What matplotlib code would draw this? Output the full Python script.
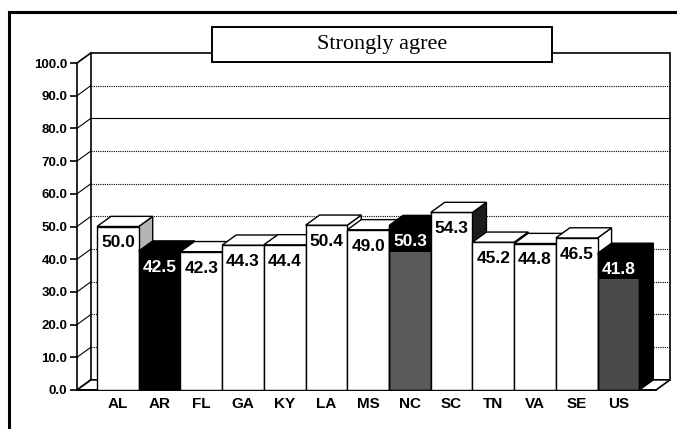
import matplotlib.pyplot as plt
from matplotlib.patches import Polygon, Rectangle
from matplotlib.lines import Line2D

states = ["AL", "AR", "FL", "GA", "KY", "LA", "MS", "NC", "SC", "TN", "VA", "SE", "US"]
values = [50.0, 42.5, 42.3, 44.3, 44.4, 50.4, 49.0, 50.3, 54.3, 45.2, 44.8, 46.5, 41.8]
yticks = [0, 10, 20, 30, 40, 50, 60, 70, 80, 90, 100]
title = "Strongly agree"

# face colours per bar: front, top, right side
front_col = {"AR": "black", "NC": "#5a5a5a", "US": "#4a4a4a"}
top_col = {"AR": "black", "NC": "black", "US": "black"}
side_col = {"AL": "#b4b4b4", "AR": "black", "NC": "black", "SC": "#1c1c1c", "US": "black"}
dark_band = ["NC", "US"]   # black band at the top of the front face

W, H = 677, 429
fig = plt.figure(figsize=(W / 100, H / 100), dpi=100)
ax = fig.add_axes([77 / W, 39 / H, 579 / W, 327 / H])
xmin, xmax = -0.98, 12.9
ax.set_xlim(xmin, xmax)
ax.set_ylim(0, 100)
ax.set_facecolor("none")

# depth of the fake 3d box, in data units (~14px right, 10px up)
DX, DY = 0.335, 3.1

# back wall + grid
ax.add_patch(Rectangle((xmin + DX, DY), xmax - xmin, 100, fc="white", ec="black",
                       lw=1.2, zorder=1, clip_on=False))
for v in yticks[1:-1]:
    ax.plot([xmin + DX, xmax + DX], [v + DY, v + DY], color="black",
            ls="-" if v == 80 else (0, (1, 1)), lw=0.8, zorder=1.1, clip_on=False)
# left wall diagonals
for v in yticks:
    ax.plot([xmin, xmin + DX], [v, v + DY], color="black", lw=0.8 if 0 < v < 100 else 1.2,
            zorder=1.2, clip_on=False)
# floor
ax.add_patch(Polygon([(xmin, 0), (xmax, 0), (xmax + DX, DY), (xmin + DX, DY)],
                     closed=True, fc="white", ec="black", lw=1.2, zorder=1.5, clip_on=False))

for i, (s, v) in enumerate(zip(states, values)):
    z = 10 + i
    fc = front_col.get(s, "white")
    ax.bar(i, v, width=1.0, color=fc, edgecolor="black", lw=1.0, zorder=z)
    if s in dark_band:
        ax.bar(i, 8, bottom=v - 8, width=1.0, color="black", lw=0, zorder=z)
        ax.bar(i, v, width=1.0, color="none", edgecolor="black", lw=1.0, zorder=z)
    ax.add_patch(Polygon([(i - 0.5, v), (i + 0.5, v), (i + 0.5 + DX, v + DY), (i - 0.5 + DX, v + DY)],
                         closed=True, fc=top_col.get(s, "white"), ec="black", lw=1.0,
                         zorder=z, clip_on=False))
    ax.add_patch(Polygon([(i + 0.5, 0), (i + 0.5 + DX, DY), (i + 0.5 + DX, v + DY), (i + 0.5, v)],
                         closed=True, fc=side_col.get(s, "white"), ec="black", lw=1.0,
                         zorder=z - 0.5, clip_on=False))
    tc = "white" if fc != "white" else "black"
    ax.text(i, v - 5, f"{v:.1f}", ha="center", va="center", color=tc,
            family="Liberation Sans", fontweight="bold", fontsize=12.5, zorder=z + 0.5)

ax.spines["top"].set_visible(False)
ax.spines["right"].set_visible(False)
ax.spines["left"].set_linewidth(1.2)
ax.spines["bottom"].set_linewidth(1.2)
ax.set_yticks(yticks)
ax.set_yticklabels([f"{t:.1f}" for t in yticks], family="Liberation Sans",
                   fontweight="bold", fontsize=9.5)
ax.tick_params(axis="y", direction="out", length=5, width=1.2, pad=2)
ax.set_xticks(range(len(states)))
ax.set_xticklabels(states, family="Liberation Sans", fontweight="bold", fontsize=11)
ax.tick_params(axis="x", length=0, pad=5)

# title box
fig.add_artist(Rectangle((212 / W, 1 - 62 / H), 340 / W, 35 / H, transform=fig.transFigure,
                         fc="white", ec="black", lw=1.4, zorder=5))
fig.text(382 / W, 1 - 45 / H, title, ha="center", va="center",
         family="Liberation Serif", fontsize=16, zorder=6)

# outer frame of the page box
fig.add_artist(Line2D([9 / W, 9 / W], [0, 1 - 12 / H], transform=fig.transFigure,
                      color="black", lw=2.2))
fig.add_artist(Line2D([9 / W, 1], [1 - 12 / H, 1 - 12 / H], transform=fig.transFigure,
                      color="black", lw=2.2))

fig.savefig("out.png", dpi=100)
